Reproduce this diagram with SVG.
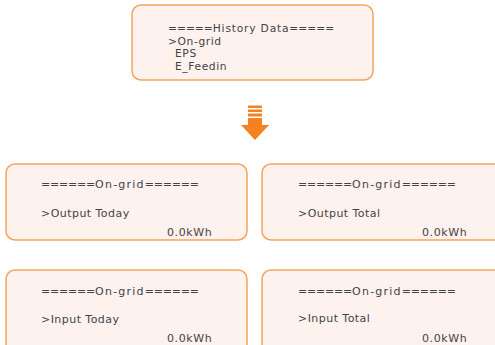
<svg xmlns="http://www.w3.org/2000/svg" width="495" height="345" viewBox="0 0 495 345">
<style>
.box{fill:#FDF2EE;stroke:#F5A55C;stroke-width:1.5}
text{font-family:"DejaVu Sans","Liberation Sans",sans-serif;font-size:11px;fill:#444444}
.eq{letter-spacing:-0.2px}
.w{letter-spacing:1.2px}
.item{letter-spacing:0.45px}
.top{font-size:10.7px}
.hd{letter-spacing:0.8px}
.tw{letter-spacing:0.6px}
.val{letter-spacing:0.6px}
.arrow{fill:#F58220}
</style>
<g id="history">
<rect class="box" x="132" y="5" width="241" height="75" rx="9"/>
<text class="top" x="168" y="32"><tspan>=====</tspan><tspan class="hd">History Data</tspan><tspan>=====</tspan></text>
<text class="top tw" x="168" y="44.5">&gt;On-grid</text>
<text class="top tw" x="175" y="57">EPS</text>
<text class="top tw" x="175" y="69.5">E_Feedin</text>
</g>
<g id="connectors">
<g class="arrow">
<rect x="248" y="105.5" width="14" height="2.5"/>
<rect x="248" y="109.5" width="14" height="2.5"/>
<rect x="248" y="113.5" width="14" height="3"/>
<rect x="248" y="118" width="14" height="7.5"/>
<polygon points="241,125 269,125 255,140"/>
</g>
</g>
<g id="output-today">
<rect class="box" x="6" y="164" width="241" height="76" rx="9"/>
<text x="41" y="188"><tspan class="eq">======</tspan><tspan class="w">On-grid</tspan><tspan class="eq">======</tspan></text>
<text class="item" x="41" y="217">&gt;Output Today</text>
<text class="val" x="167" y="236">0.0kWh</text>
</g>
<g id="output-total">
<rect class="box" x="262" y="164" width="241" height="76" rx="9"/>
<text x="298" y="188"><tspan class="eq">======</tspan><tspan class="w">On-grid</tspan><tspan class="eq">======</tspan></text>
<text class="item" x="298" y="217">&gt;Output Total</text>
<text class="val" x="422" y="236">0.0kWh</text>
</g>
<g id="input-today">
<rect class="box" x="6" y="270" width="241" height="90" rx="9"/>
<text x="41" y="295"><tspan class="eq">======</tspan><tspan class="w">On-grid</tspan><tspan class="eq">======</tspan></text>
<text class="item" x="41" y="323">&gt;Input Today</text>
<text class="val" x="167" y="342">0.0kWh</text>
</g>
<g id="input-total">
<rect class="box" x="262" y="270" width="241" height="90" rx="9"/>
<text x="298" y="295"><tspan class="eq">======</tspan><tspan class="w">On-grid</tspan><tspan class="eq">======</tspan></text>
<text class="item" x="298" y="322">&gt;Input Total</text>
<text class="val" x="422" y="342">0.0kWh</text>
</g>
</svg>
